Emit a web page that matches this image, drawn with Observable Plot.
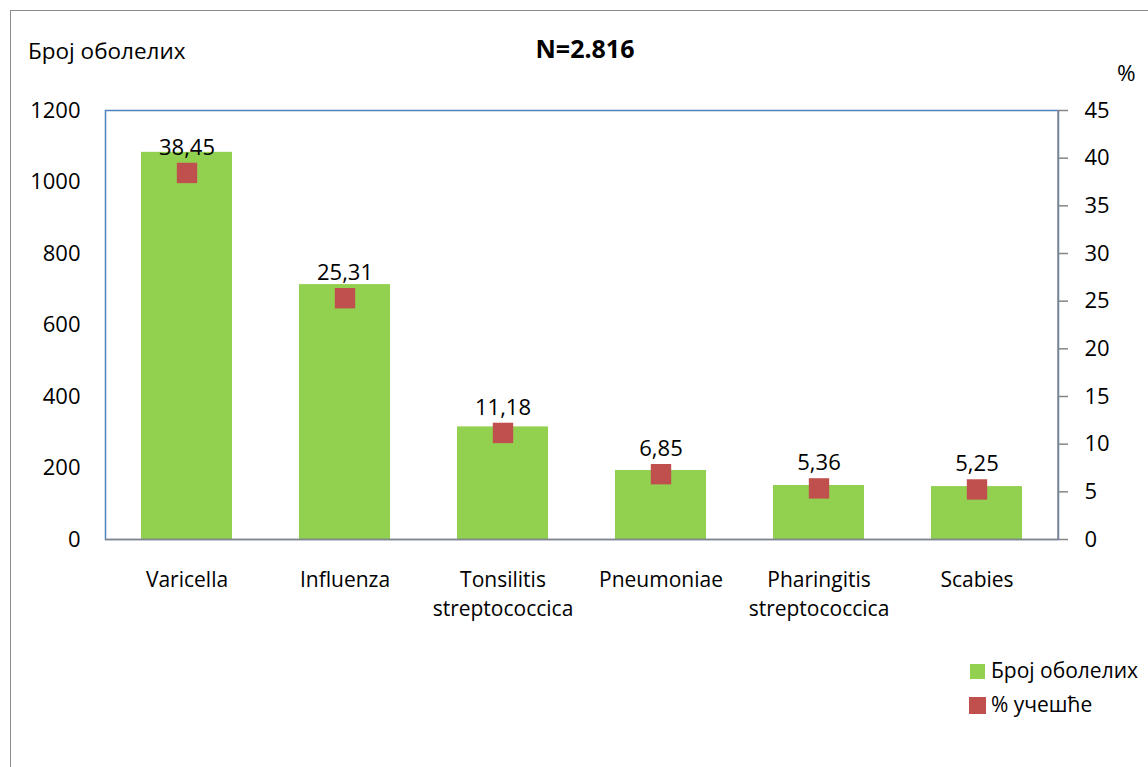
<!DOCTYPE html>
<html>
<head>
<meta charset="utf-8">
<script src="https://cdn.jsdelivr.net/npm/d3@7"></script>
<script src="https://cdn.jsdelivr.net/npm/@observablehq/plot@0.6"></script>
<style>
  body { margin: 0; background: #fff; }
  #wrap { position: relative; width: 1148px; height: 767px; overflow: hidden; background: #fff; font-family: "Open Sans", sans-serif; color: #000; }
  #border { position: absolute; left: 10px; top: 10px; width: 1400px; height: 1000px; border: 1.5px solid #8c8c8c; }
  #chart { position: absolute; left: 0; top: 0; }
  .lbl { position: absolute; white-space: nowrap; font-size: 22.5px; line-height: 1; }
  .sw { position: absolute; }
</style>
</head>
<body>
<div id="wrap">
  <div id="border"></div>
  <div id="chart"></div>
  <div class="lbl" style="left:28px;top:40px;">Број оболелих</div>
  <div class="lbl" style="left:0;width:1170px;text-align:center;top:36px;font-weight:bold;font-size:25px;">N=2.816</div>
  <div class="lbl" style="left:1117px;top:62px;">%</div>
  <div class="sw" style="left:970px;top:664px;width:15px;height:15px;background:#92D050;"></div>
  <div class="lbl" style="left:991px;top:660px;font-size:21px;">Број оболелих</div>
  <div class="sw" style="left:969px;top:697px;width:17px;height:17px;background:#C0504D;"></div>
  <div class="lbl" style="left:991px;top:694px;font-size:21px;">% учешће</div>
</div>
<script>
const categories = ["Varicella", "Influenza", "Tonsilitis\nstreptococcica", "Pneumoniae", "Pharingitis\nstreptococcica", "Scabies"];
const counts = [1083, 713, 315, 193, 151, 148];
const percents = [38.45, 25.31, 11.18, 6.85, 5.36, 5.25];
const leftTicks = [0, 200, 400, 600, 800, 1000, 1200];
const rightTicks = [0, 5, 10, 15, 20, 25, 30, 35, 40, 45];

const yMax = 1200, pMax = 45;
const toY = p => p * yMax / pMax;
const data = categories.map((c, i) => ({cat: c, count: counts[i], pct: percents[i]}));

const rightLine = (index, scales, values, dims) => {
  const x = dims.width - dims.marginRight;
  const el = document.createElementNS("http://www.w3.org/2000/svg", "line");
  el.setAttribute("x1", x); el.setAttribute("x2", x);
  el.setAttribute("y1", scales.y(yMax)); el.setAttribute("y2", scales.y(0));
  el.setAttribute("stroke", "#868686"); el.setAttribute("stroke-width", "1.5");
  return el;
};

const chart = Plot.plot({
  width: 1148,
  height: 767,
  marginLeft: 105,
  marginRight: 90,
  marginTop: 110,
  marginBottom: 228,
  style: {fontFamily: "Open Sans, sans-serif", fontSize: "21px", background: "transparent", color: "#000"},
  x: {type: "band", domain: categories, paddingInner: 0.427, paddingOuter: 0.2135, label: null},
  y: {domain: [0, yMax], label: null},
  marks: [
    Plot.barY(data, {x: "cat", y: "count", fill: "#92D050"}),
    Plot.frame({stroke: "#4F81BD", strokeWidth: 1.5}),
    rightLine,
    Plot.ruleY([0], {stroke: "#868686", strokeWidth: 1.5}),
    Plot.axisY(leftTicks, {anchor: "left", tickSize: 0, tickPadding: 25, fontSize: 22, label: null, tickFormat: d => String(d)}),
    Plot.axisY(rightTicks.map(toY), {anchor: "right", tickSize: 9, tickPadding: 17, stroke: "#868686", strokeWidth: 1.5, fontSize: 22, label: null, tickFormat: d => String(Math.round(d * pMax / yMax))}),
    Plot.axisX({tickSize: 0, tickPadding: 27, fontSize: 21, lineHeight: 1.38, label: null}),
    Plot.dot(data, {x: "cat", y: d => toY(d.pct), symbol: "square", r: 11.5, fill: "#C0504D"}),
    Plot.text(data, {x: "cat", y: d => toY(d.pct), text: d => d.pct.toFixed(2).replace(".", ","), dy: -25, fontSize: 22, fill: "#000"})
  ]
});
document.getElementById("chart").appendChild(chart);
</script>
</body>
</html>
